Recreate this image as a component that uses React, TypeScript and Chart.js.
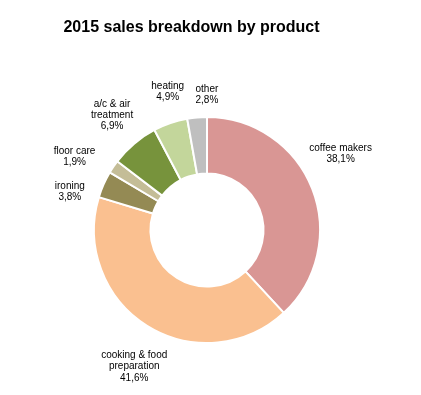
import React, { useEffect, useRef } from "react";
import { Chart, registerables } from "chart.js";

Chart.register(...registerables);

const TITLE = "2015 sales breakdown by product";
const categories: string[][] = [
  ["coffee makers"],
  ["cooking & food", "preparation"],
  ["ironing"],
  ["floor care"],
  ["a/c & air", "treatment"],
  ["heating"],
  ["other"],
];
const shares = [38.1, 41.6, 3.8, 1.9, 6.9, 4.9, 2.8];
const colors = ["#D99694", "#FAC090", "#948A54", "#C4BD97", "#77933C", "#C3D69B", "#BFBFBF"];

// label placement: angle shift (degrees) from slice mid-angle, and distance as factor of outer radius
const labelShift = [-8.2, -4, -8.3, -5, 0.6, 3, 5];
const labelDist = [1.36, 1.37, 1.26, 1.34, 1.32, 1.27, 1.2];

const FONT = "'Liberation Sans', Arial, sans-serif";

const labelPlugin = {
  id: "outerLabels",
  afterDatasetsDraw(chart: any) {
    const ctx = chart.ctx;
    const meta = chart.getDatasetMeta(0);
    ctx.save();
    ctx.fillStyle = "#000";
    ctx.font = `10px ${FONT}`;
    ctx.textAlign = "center";
    ctx.textBaseline = "middle";
    const lineH = 11.2;
    meta.data.forEach((arc: any, i: number) => {
      const { x, y, startAngle, endAngle, outerRadius } = arc.getProps(
        ["x", "y", "startAngle", "endAngle", "outerRadius"],
        true
      );
      const mid = (startAngle + endAngle) / 2 + (labelShift[i] * Math.PI) / 180;
      const d = outerRadius * labelDist[i];
      const cx = x + Math.cos(mid) * d;
      const cy = y + Math.sin(mid) * d;
      const lines = [...categories[i], shares[i].toFixed(1).replace(".", ",") + "%"];
      const top = cy - ((lines.length - 1) * lineH) / 2;
      lines.forEach((t, k) => ctx.fillText(t, cx, top + k * lineH));
    });
    ctx.restore();
  },
};

const titlePlugin = {
  id: "customTitle",
  afterDraw(chart: any) {
    const ctx = chart.ctx;
    ctx.save();
    ctx.fillStyle = "#000";
    ctx.font = `bold 16px ${FONT}`;
    ctx.textAlign = "center";
    ctx.textBaseline = "alphabetic";
    ctx.fillText(TITLE, 183.5, 23.5);
    ctx.restore();
  },
};

export default function App() {
  const ref = useRef<HTMLCanvasElement>(null);
  useEffect(() => {
    if (!ref.current) return;
    const chart = new Chart(ref.current, {
      type: "doughnut",
      data: {
        labels: categories.map((c) => c.join(" ")),
        datasets: [
          {
            data: shares,
            backgroundColor: colors,
            borderColor: "#FFFFFF",
            borderWidth: 2,
          },
        ],
      },
      options: {
        responsive: false,
        animation: false,
        cutout: "50%",
        layout: { padding: { left: 79, right: 86, top: 108, bottom: 43 } },
        plugins: {
          legend: { display: false },
          tooltip: { enabled: false },
          title: { display: false },
        },
      },
      plugins: [labelPlugin, titlePlugin],
    });
    return () => chart.destroy();
  }, []);
  return (
    <canvas ref={ref} width={405} height={379} style={{ display: "block" }} />
  );
}
